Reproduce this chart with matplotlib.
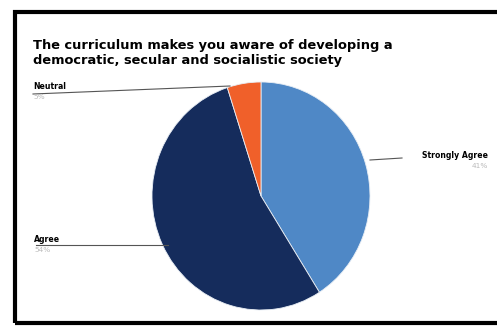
import matplotlib.pyplot as plt
from matplotlib.patches import Rectangle

labels = ["Strongly Agree", "Agree", "Neutral"]
values = [41, 54, 5]
pct_text = ["41%", "54%", "5%"]
colors = ["#4f88c6", "#152c5c", "#f0602a"]

fig = plt.figure(figsize=(4.97, 3.27), dpi=100)
fig.patch.set_facecolor("white")

# frame of the photographed screen
fig.add_artist(Rectangle((15 / 497, 4 / 327), 500 / 497, 311 / 327, transform=fig.transFigure,
                         fill=False, edgecolor="black", linewidth=3))

fig.text(33 / 497, 1 - 53 / 327, "The curriculum makes you aware of developing a\ndemocratic, secular and socialistic society",
         fontsize=9.4, fontweight="bold", va="center", ha="left", linespacing=1.25)

ax = fig.add_axes([152 / 497, 1 - 310 / 327, 218 / 497, 228 / 327])
wedges, _ = ax.pie(values, colors=colors, startangle=90, counterclock=False,
                   wedgeprops=dict(linewidth=0.6, edgecolor="#e8eef5"))
ax.set_xlim(-1, 1)
ax.set_ylim(-1, 1)
ax.set_aspect("auto")

# leader lines and labels (figure pixel coordinates)
def px(x, y):
    return x / 497, 1 - y / 327

lines = {
    "Strongly Agree": [(370, 160), (402, 158)],
    "Agree": [(168, 245), (36, 245)],
    "Neutral": [(230, 86), (33, 94)],
}
pos = {
    "Strongly Agree": (488, 155, "right"),
    "Agree": (34, 239, "left"),
    "Neutral": (33, 86, "left"),
}
for lab, pct in zip(labels, pct_text):
    (x0, y0), (x1, y1) = lines[lab]
    fig.add_artist(plt.Line2D([px(x0, y0)[0], px(x1, y1)[0]], [px(x0, y0)[1], px(x1, y1)[1]],
                              transform=fig.transFigure, color="#555555", linewidth=0.8))
    tx, ty, ha = pos[lab]
    fig.text(*px(tx, ty), lab, fontsize=5.6, fontweight="bold", ha=ha, va="center")
    fig.text(*px(tx, ty + 11), pct, fontsize=5.3, color="#bbbbbb", ha=ha, va="center")

fig.savefig("out.png", dpi=100)
